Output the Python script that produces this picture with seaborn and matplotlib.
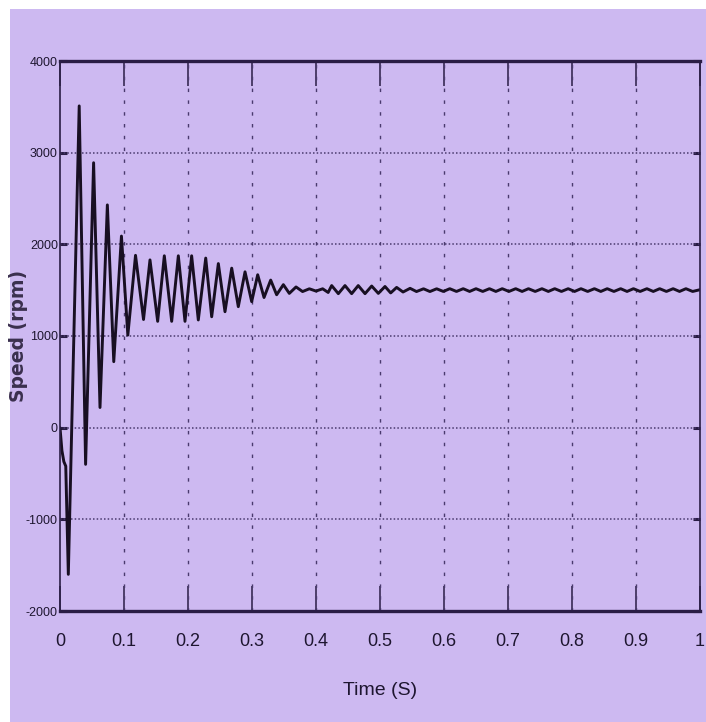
import pandas as pd
import matplotlib.pyplot as plt
import seaborn as sns
from matplotlib.patches import Rectangle

# valeurs (extrema successifs)
time_s = [0.000, 0.003, 0.006, 0.009, 0.013, 0.030, 0.040, 0.0525, 0.0625, 0.074,
          0.084, 0.096, 0.106, 0.118, 0.1305, 0.1406, 0.1526, 0.1630, 0.1745, 0.1849,
          0.1953, 0.2057, 0.2161, 0.2277, 0.2370, 0.2474, 0.2578, 0.2683, 0.2786, 0.2891,
          0.2995, 0.3089, 0.3188, 0.3292, 0.3385, 0.3490, 0.3583, 0.3688, 0.3790, 0.3896,
          0.4000, 0.4104, 0.4190, 0.4245, 0.4349, 0.4453, 0.4557, 0.4660, 0.4766, 0.4870,
          0.4974, 0.5078, 0.5167, 0.5260, 0.5360, 0.5470, 0.5570, 0.5680, 0.5780, 0.5885,
          0.5990, 0.6090, 0.6195, 0.6300, 0.6400, 0.6500, 0.6605, 0.6710, 0.6810, 0.6910,
          0.7015, 0.7120, 0.7220, 0.7320, 0.7425, 0.7530, 0.7630, 0.7730, 0.7835, 0.7940,
          0.8040, 0.8140, 0.8245, 0.8350, 0.8450, 0.8550, 0.8655, 0.8760, 0.8860, 0.8960,
          0.9065, 0.9170, 0.9270, 0.9370, 0.9475, 0.9580, 0.9680, 0.9780, 0.9885, 1.0000]
speed_rpm = [0, -250, -370, -420, -1600, 3510, -400, 2890, 220, 2430,
             720, 2090, 1010, 1880, 1180, 1830, 1160, 1875, 1160, 1875,
             1160, 1875, 1175, 1850, 1210, 1790, 1265, 1740, 1320, 1700,
             1375, 1668, 1420, 1610, 1450, 1560, 1465, 1535, 1485, 1515,
             1490, 1515, 1475, 1550, 1462, 1550, 1462, 1550, 1462, 1545,
             1465, 1540, 1470, 1530, 1480, 1520, 1485, 1515, 1485, 1515,
             1486, 1516, 1486, 1516, 1486, 1516, 1486, 1516, 1486, 1516,
             1486, 1516, 1486, 1516, 1486, 1516, 1486, 1516, 1486, 1516,
             1486, 1516, 1486, 1516, 1486, 1516, 1486, 1516, 1486, 1516,
             1486, 1516, 1486, 1516, 1486, 1516, 1486, 1516, 1486, 1505]

x_ticks = [0, 0.1, 0.2, 0.3, 0.4, 0.5, 0.6, 0.7, 0.8, 0.9, 1]
x_labels = ['0', '0.1', '0.2', '0.3', '0.4', '0.5', '0.6', '0.7', '0.8', '0.9', '1']
y_ticks = [-2000, -1000, 0, 1000, 2000, 3000, 4000]
y_labels = ['-2000', '-1000', '0', '1000', '2000', '3000', '4000']

df = pd.DataFrame({'t': time_s, 'speed': speed_rpm})

lavender = '#cdb9f1'
dark = '#2a1d45'
txt = '#1e1630'

sns.set_style('white')
plt.rcParams['font.family'] = ['Liberation Sans', 'DejaVu Sans']

fig = plt.figure(figsize=(7.06, 7.22), dpi=100, facecolor='white')
fig.patches.append(Rectangle((10 / 706, 0), 1, 713 / 722, transform=fig.transFigure,
                             facecolor=lavender, edgecolor='none', zorder=-5))
ax = fig.add_axes([60 / 706, 111 / 722, 640 / 706, 550 / 722])
ax.set_facecolor(lavender)

sns.lineplot(data=df, x='t', y='speed', ax=ax, color='#180f22', linewidth=2.1,
             estimator=None, sort=False)

ax.set_xlim(0, 1)
ax.set_ylim(-2000, 4000)
ax.set_xticks(x_ticks)
ax.set_xticklabels(x_labels, fontsize=13, color=txt)
ax.set_yticks(y_ticks)
ax.set_yticklabels(y_labels, fontsize=9, color=txt)

# grille : pointillés serrés en horizontal, tirets espacés en vertical
for y in y_ticks[1:-1]:
    ax.axhline(y, color='#4a3a6e', linewidth=1.1, linestyle=(0, (1, 1.4)), zorder=1)
for x in x_ticks[1:-1]:
    ax.axvline(x, color='#4a3a6e', linewidth=1.0, linestyle=(0, (2.5, 6)), zorder=1)

ax.tick_params(axis='x', direction='in', length=18, width=1.1, color=dark,
               top=True, bottom=True, pad=16)
ax.tick_params(axis='y', direction='in', length=5, width=2.2, color=dark,
               left=True, right=True, pad=1.5)

for side in ['top', 'bottom']:
    ax.spines[side].set_linewidth(2.4)
    ax.spines[side].set_color(dark)
for side in ['left', 'right']:
    ax.spines[side].set_linewidth(1.2)
    ax.spines[side].set_color(dark)

ax.set_xlabel('Time (S)', fontsize=14, color=txt, labelpad=23)
ax.set_ylabel('Speed (rpm)', family='DejaVu Sans', fontweight='bold', fontsize=13.5,
              color='#3a2f4e')
ax.yaxis.set_label_coords((28 - 60) / 640, 0.5)

plt.savefig('out.png', dpi=100, facecolor=fig.get_facecolor())
